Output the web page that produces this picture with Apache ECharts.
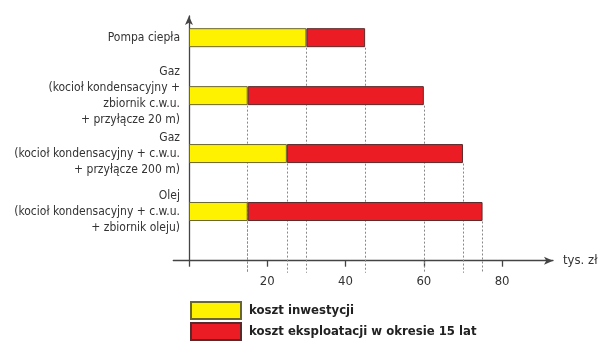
<!DOCTYPE html>
<html>
<head>
<meta charset="utf-8">
<script src="https://cdn.jsdelivr.net/npm/echarts@6/dist/echarts.min.js"></script>
<style>
  html, body { margin: 0; padding: 0; background: #fff; }
  #chart { width: 598px; height: 341px; }
</style>
</head>
<body>
<div id="chart"></div>
<script>
const categories = [
  'Pompa ciepła',
  'Gaz\n(kocioł kondensacyjny +\nzbiornik c.w.u.\n+ przyłącze 20 m)',
  'Gaz\n(kocioł kondensacyjny + c.w.u.\n+ przyłącze 200 m)',
  'Olej\n(kocioł kondensacyjny + c.w.u.\n+ zbiornik oleju)'
]
const investment = [30, 15, 25, 15]
const operation = [15, 45, 45, 60]
const xTickLabels = [20, 40, 60, 80]
const seriesNames = ['koszt inwestycji', 'koszt eksploatacji w okresie 15 lat']

const FONT = "'DejaVu Sans Condensed', 'Liberation Sans', sans-serif"
const AXIS_COLOR = '#444'

// grid 2 uses a value y axis where each category sits at slot n..1 (top to bottom)
const slot = (i) => categories.length - i
const barHalf = 0.1726   // half bar height in slot units
const dropEnd = -0.06    // dotted lines end just below the x axis

const guideLines = []
categories.forEach((c, i) => {
  const ends = [investment[i], investment[i] + operation[i]]
  ends.forEach((x) => {
    guideLines.push({ coords: [[x, slot(i) - barHalf], [x, dropEnd]] })
  })
})

const chart = echarts.init(document.getElementById('chart'))

const option = {
  animation: false,
  textStyle: { fontFamily: FONT },
  legend: {
    orient: 'vertical',
    left: 190,
    top: 301,
    height: 80,
    padding: 0,
    itemWidth: 50,
    itemHeight: 17,
    itemGap: 2,
    icon: 'rect',
    data: seriesNames,
    textStyle: {
      fontFamily: FONT,
      fontSize: 13,
      lineHeight: 17,
      fontWeight: 'bold',
      color: '#222',
      padding: [0, 0, 0, 3]
    }
  },
  grid: [
    { left: 189, right: 45, top: 8.7, bottom: 100.5, outerBoundsMode: 'none' },
    { left: 173.3, right: 45, top: 16, bottom: 80.3, outerBoundsMode: 'none' }
  ],
  xAxis: [
    {
      gridIndex: 0,
      type: 'value',
      min: 0,
      max: 93,
      show: false
    },
    {
      gridIndex: 1,
      type: 'value',
      min: -4,
      max: 93,
      name: 'tys. zł',
      nameLocation: 'end',
      nameGap: 10,
      nameTextStyle: { fontFamily: FONT, fontSize: 13, color: '#333' },
      splitLine: { show: false },
      axisLine: {
        lineStyle: { color: AXIS_COLOR, width: 1.3 },
        symbol: ['none', 'arrow'],
        symbolSize: [6, 9]
      },
      axisTick: {
        customValues: [0].concat(xTickLabels),
        length: 6,
        lineStyle: { color: AXIS_COLOR, width: 1.3 }
      },
      axisLabel: {
        customValues: xTickLabels,
        margin: 14,
        fontFamily: FONT,
        fontSize: 13,
        color: '#333'
      }
    }
  ],
  yAxis: [
    {
      gridIndex: 0,
      type: 'category',
      inverse: true,
      data: categories,
      axisLine: { show: false },
      axisTick: { show: false },
      axisLabel: {
        margin: 9,
        fontFamily: FONT,
        fontSize: 12,
        lineHeight: 16,
        align: 'right',
        color: '#333'
      }
    },
    {
      gridIndex: 1,
      type: 'value',
      min: 0.15,
      max: 4.375,
      splitLine: { show: false },
      axisTick: { show: false },
      axisLabel: { show: false },
      axisLine: {
        onZero: true,
        lineStyle: { color: AXIS_COLOR, width: 1.3 },
        symbol: ['none', 'arrow'],
        symbolSize: [6, 9]
      }
    }
  ],
  series: [
    {
      name: seriesNames[0],
      type: 'bar',
      stack: 'cost',
      xAxisIndex: 0,
      yAxisIndex: 0,
      barWidth: 19,
      data: investment,
      itemStyle: { color: '#fff200', borderColor: '#6b6530', borderWidth: 1 }
    },
    {
      name: seriesNames[1],
      type: 'bar',
      stack: 'cost',
      xAxisIndex: 0,
      yAxisIndex: 0,
      barWidth: 19,
      data: operation,
      itemStyle: { color: '#ec1c24', borderColor: '#5a2a2a', borderWidth: 1 }
    },
    {
      type: 'lines',
      coordinateSystem: 'cartesian2d',
      xAxisIndex: 1,
      yAxisIndex: 1,
      clip: false,
      silent: true,
      z: 1,
      lineStyle: { color: '#888', width: 1, type: [2, 2], opacity: 1 },
      data: guideLines
    }
  ]
}

chart.setOption(option)
</script>
</body>
</html>
